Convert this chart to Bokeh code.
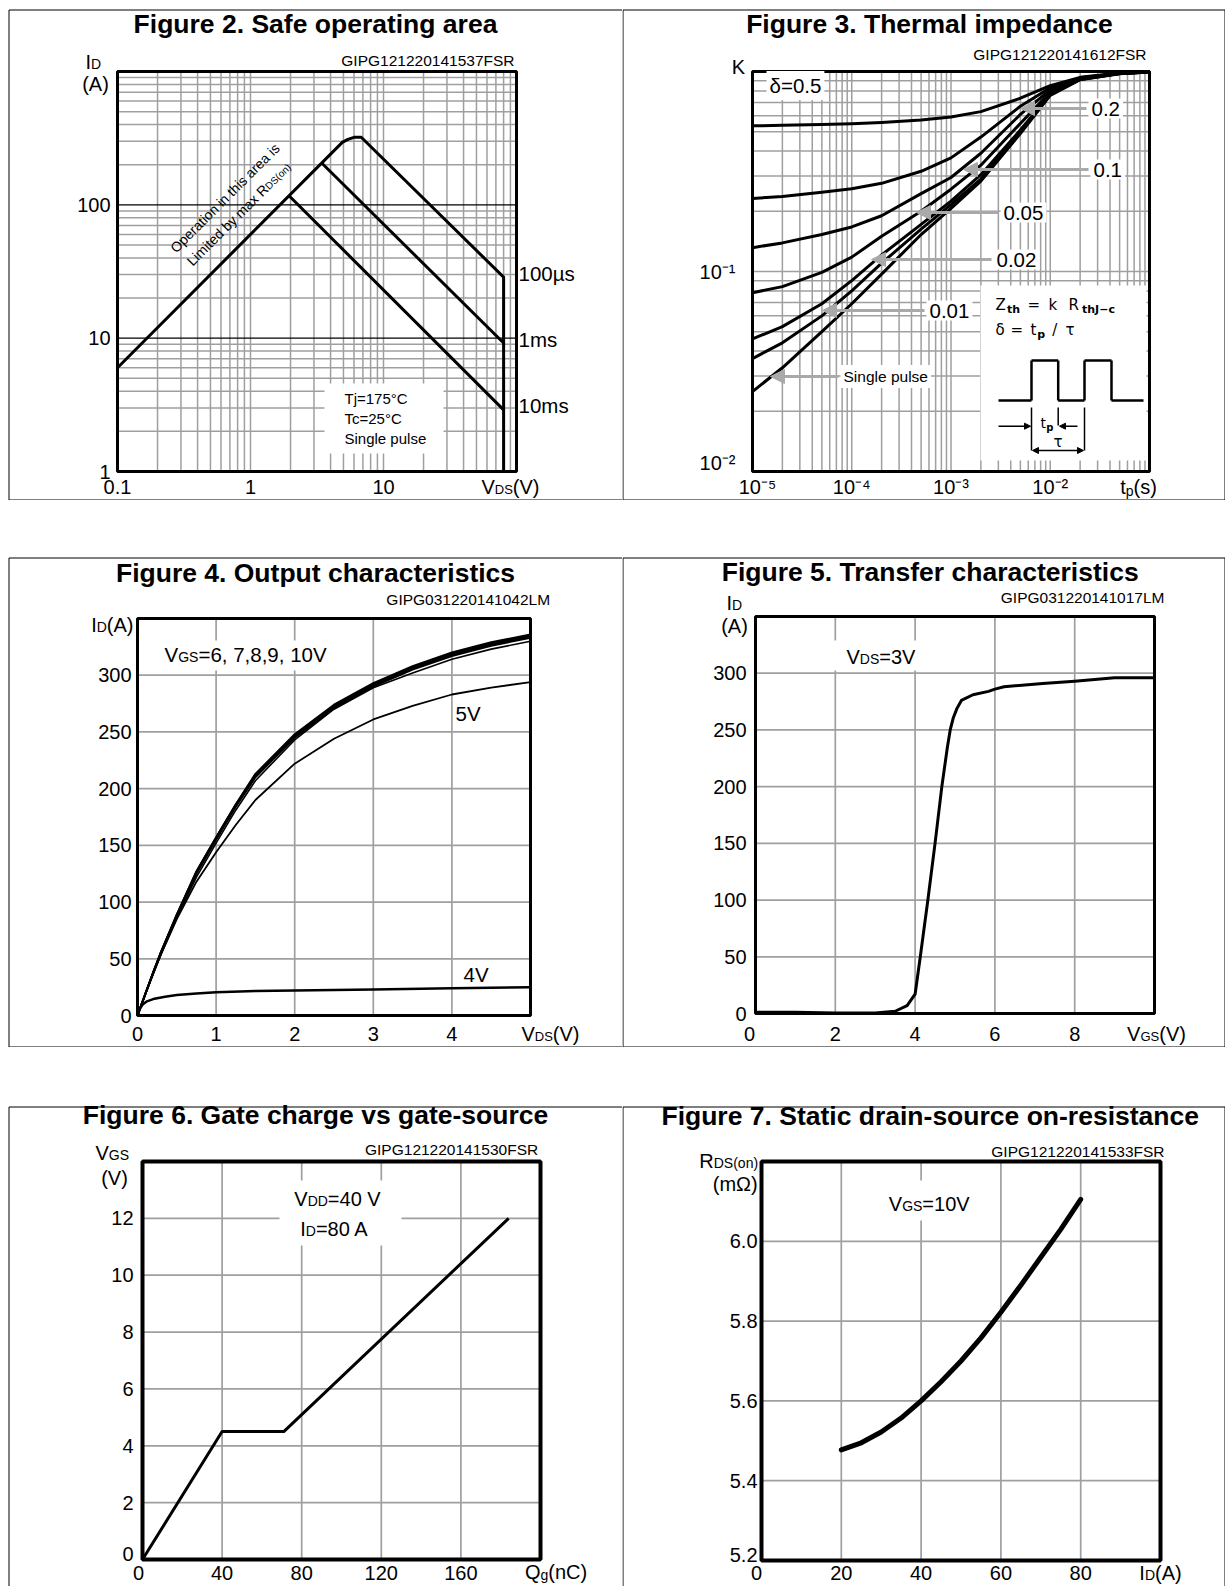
import math
from bokeh.plotting import figure
from bokeh.models import Range1d, Label, BoxAnnotation, Arrow, NormalHead
from bokeh.layouts import column, row
from bokeh.embed import file_html
from bokeh.resources import INLINE

# ======================= DATA =======================
# Figure 2 - safe operating area
soa_vds_100us = [0.1, 4.9, 5.4, 6.0, 6.8, 80, 80]
soa_id_100us = [6.0, 294, 310, 321, 321, 28.7, 1.0]
soa_vds_1ms = [3.43, 80]
soa_id_1ms = [206, 9.2]
soa_vds_10ms = [1.95, 80]
soa_id_10ms = [117, 2.9]
soa_x_ticks = [0.1, 1, 10]
soa_x_labels = ["0.1", "1", "10"]
soa_y_ticks = [1, 10, 100]
soa_y_labels = ["1", "10", "100"]
soa_curve_names = ["100µs", "1ms", "10ms"]
soa_conditions = ["Tj=175°C", "Tc=25°C", "Single pulse"]

# Figure 3 - thermal impedance
zth_tp = [1e-5, 2e-5, 5e-5, 1e-4, 2e-4, 5e-4, 1e-3, 2e-3, 5e-3, 1e-2, 2e-2, 5e-2, 1e-1]
zth_k_d050 = [0.535, 0.538, 0.543, 0.548, 0.556, 0.572, 0.592, 0.63, 0.735, 0.85, 0.935, 0.982, 0.997]
zth_k_d020 = [0.232, 0.237, 0.249, 0.259, 0.276, 0.317, 0.37, 0.47, 0.67, 0.83, 0.93, 0.98, 0.996]
zth_k_d010 = [0.1316, 0.139, 0.153, 0.167, 0.19, 0.245, 0.295, 0.39, 0.61, 0.81, 0.925, 0.98, 0.996]
zth_k_d005 = [0.0783, 0.084, 0.099, 0.118, 0.15, 0.2, 0.258, 0.34, 0.55, 0.79, 0.92, 0.978, 0.995]
zth_k_d002 = [0.046, 0.053, 0.069, 0.09, 0.121, 0.172, 0.225, 0.305, 0.51, 0.77, 0.915, 0.977, 0.995]
zth_k_d001 = [0.0367, 0.044, 0.06, 0.08, 0.11, 0.163, 0.216, 0.29, 0.5, 0.765, 0.912, 0.976, 0.995]
zth_k_single = [0.0251, 0.033, 0.05, 0.069, 0.097, 0.153, 0.207, 0.283, 0.49, 0.76, 0.91, 0.975, 0.995]
zth_x_ticks = [1e-5, 1e-4, 1e-3, 1e-2]
zth_x_labels = ["10\u207b\u2075", "10\u207b\u2074", "10\u207b\u00b3", "10\u207b\u00b2"]
zth_y_ticks = [0.01, 0.1]
zth_y_labels = ["10\u207b\u00b2", "10\u207b\u00b9"]
zth_duty_labels = ["\u03b4=0.5", "0.2", "0.1", "0.05", "0.02", "0.01", "Single pulse"]

# Figure 4 - output characteristics
out_vds = [0, 0.1, 0.2, 0.3, 0.5, 0.75, 1.0, 1.25, 1.5, 2.0, 2.5, 3.0, 3.5, 4.0, 4.5, 5.0]
out_id_10v = [0, 19, 38, 56, 89, 127, 157, 186, 213, 248, 274, 293, 308, 320, 329, 336]
out_id_9v = [0, 19, 38, 56, 89, 127, 157, 186, 212, 247, 273, 292, 307, 319, 328, 335]
out_id_8v = [0, 19, 38, 56, 88, 126, 156, 185, 211, 246, 272, 291, 306, 318, 327, 334]
out_id_7v = [0, 19, 37, 55, 88, 125, 155, 184, 210, 245, 271, 290, 305, 317, 326, 333]
out_id_6v = [0, 19, 37, 54, 86, 122, 152, 181, 207, 243, 270, 289, 302, 314, 323, 330]
out_id_5v = [0, 19, 37, 54, 85, 118, 144, 168, 190, 222, 244, 261, 273, 283, 289, 294]
out_vds_4v = [0, 0.03, 0.07, 0.12, 0.2, 0.35, 0.5, 0.75, 1.0, 1.5, 2.0, 3.0, 4.0, 5.0]
out_id_4v = [0, 6, 10, 12.5, 14.5, 16.5, 18, 19.5, 20.5, 21.5, 22, 23, 24, 25]
out_x_ticks = [0, 1, 2, 3, 4]
out_x_labels = ["0", "1", "2", "3", "4"]
out_y_ticks = [0, 50, 100, 150, 200, 250, 300]
out_y_labels = ["0", "50", "100", "150", "200", "250", "300"]

# Figure 5 - transfer characteristics
tr_vgs = [0, 1, 2, 3, 3.5, 3.8, 4.0, 4.13, 4.32, 4.5, 4.67, 4.81, 4.88, 4.96, 5.05, 5.16,
          5.45, 5.84, 6.0, 6.23, 7.2, 8.0, 9.0, 10.0]
tr_id = [1, 1, 0.5, 0.5, 2, 7, 17, 50, 100, 150, 200, 235, 250, 261, 269, 276,
         281, 284, 286, 288, 291, 293, 296, 296]
tr_x_ticks = [0, 2, 4, 6, 8]
tr_x_labels = ["0", "2", "4", "6", "8"]
tr_y_ticks = [0, 50, 100, 150, 200, 250, 300]
tr_y_labels = ["0", "50", "100", "150", "200", "250", "300"]

# Figure 6 - gate charge
gc_qg = [0, 40, 71, 184]
gc_vgs = [0, 4.5, 4.5, 12]
gc_x_ticks = [0, 40, 80, 120, 160]
gc_x_labels = ["0", "40", "80", "120", "160"]
gc_y_ticks = [0, 2, 4, 6, 8, 10, 12]
gc_y_labels = ["0", "2", "4", "6", "8", "10", "12"]

# Figure 7 - static drain-source on-resistance
rds_id = [20, 25, 30, 35, 40, 45, 50, 55, 60, 65, 70, 75, 80]
rds_mohm = [5.477, 5.495, 5.522, 5.557, 5.6, 5.648, 5.70, 5.758, 5.822, 5.89, 5.96, 6.03, 6.105]
rds_x_ticks = [0, 20, 40, 60, 80]
rds_x_labels = ["0", "20", "40", "60", "80"]
rds_y_ticks = [5.2, 5.4, 5.6, 5.8, 6.0]
rds_y_labels = ["5.2", "5.4", "5.6", "5.8", "6.0"]

# ======================= STYLE HELPERS =======================
FONT = "Liberation Sans"
DJ = "DejaVu Sans"
GRID = "#9f9f9f"
ARW = "#a9a9a9"

AW = {' ': .278, '!': .278, '(': .333, ')': .333, ',': .278, '-': .333, '.': .278, '/': .278,
      '=': .584, '°': .4, 'µ': .576, 'Ω': .768, 'δ': .556, 'τ': .45}
for c in "0123456789":
    AW[c] = .556
AW.update(dict(A=.667, B=.667, C=.722, D=.722, E=.667, F=.611, G=.778, H=.722, I=.278, J=.5,
               K=.667, L=.556, M=.833, N=.722, O=.778, P=.667, Q=.778, R=.722, S=.667, T=.611,
               U=.722, V=.667, W=.944, X=.667, Y=.667, Z=.611))
AW.update(dict(a=.556, b=.556, c=.5, d=.556, e=.556, f=.278, g=.556, h=.556, i=.222, j=.222,
               k=.5, l=.222, m=.833, n=.556, o=.556, p=.556, q=.556, r=.333, s=.5, t=.278,
               u=.556, v=.5, w=.722, x=.5, y=.5, z=.5))


def tw(s, size):
    return sum(AW.get(c, .556) for c in s) * size


def ext_range(a, b, p_lo, p_hi, c_lo, c_hi, log):
    """Range whose [a, b] part lands on pixels [p_lo, p_hi] of a frame spanning [c_lo, c_hi]."""
    if log:
        a, b = math.log10(a), math.log10(b)
    k = (b - a) / (p_hi - p_lo)
    lo = a - (p_lo - c_lo) * k
    hi = b + (c_hi - p_hi) * k
    if log:
        return Range1d(10 ** lo, 10 ** hi)
    return Range1d(lo, hi)


def log_minors(lo, hi):
    return [k * 10.0 ** e for e in range(lo, hi) for k in range(2, 10)]


class Panel:
    def __init__(self, x0, y0, w, h, inner, xr, yr, xlog=False, ylog=False, outline=3,
                 edges=(None, None, None, None)):
        self.x0, self.y0, self.w, self.h = x0, y0, w, h
        self.L, self.T, self.R, self.B = inner
        self.xr, self.yr, self.xlog, self.ylog = xr, yr, xlog, ylog
        p = figure(width=w, height=h,
                   x_range=ext_range(xr[0], xr[1], self.L, self.R, x0, x0 + w, xlog),
                   y_range=ext_range(yr[0], yr[1], -self.B, -self.T, -(y0 + h), -y0, ylog),
                   x_axis_type="log" if xlog else "linear",
                   y_axis_type="log" if ylog else "linear",
                   x_axis_location=None, y_axis_location=None, output_backend="svg",
                   toolbar_location=None, title=None, min_border=0)
        p.min_border_left = p.min_border_right = p.min_border_top = p.min_border_bottom = 0
        p.outline_line_color = None
        p.grid.visible = False
        p.background_fill_color = "white"
        p.border_fill_color = "white"
        self.p = p
        # plot-area frame
        p.add_layout(BoxAnnotation(left=xr[0], right=xr[1], bottom=yr[0], top=yr[1],
                                   fill_color=None, fill_alpha=0, line_color="black",
                                   line_alpha=1.0, line_width=outline))
        # thin cell border
        l, t, r, b = edges
        l = x0 - 6 if l is None else l
        r = x0 + w + 6 if r is None else r
        t = y0 - 6 if t is None else t
        b = y0 + h + 6 if b is None else b
        p.add_layout(BoxAnnotation(left=l - x0, right=r - x0, top=y0 + h - t, bottom=y0 + h - b,
                                   left_units="screen", right_units="screen",
                                   top_units="screen", bottom_units="screen",
                                   fill_color=None, fill_alpha=0, line_color="black",
                                   line_alpha=1.0, line_width=1, level="overlay"))

    # page pixel -> data
    def xd(self, px):
        a, b = self.xr
        f = (px - self.L) / (self.R - self.L)
        if self.xlog:
            return 10 ** (math.log10(a) + f * (math.log10(b) - math.log10(a)))
        return a + f * (b - a)

    def yd(self, py):
        a, b = self.yr
        f = (self.B - py) / (self.B - self.T)
        if self.ylog:
            return 10 ** (math.log10(a) + f * (math.log10(b) - math.log10(a)))
        return a + f * (b - a)

    def text(self, px, py, s, size, align="left", bold=False, angle=0.0,
             font=FONT, bg=None, color="black"):
        # py is the vertical centre of the text
        lab = Label(x=px - self.x0, y=self.y0 + self.h - py, x_units="screen", y_units="screen",
                    text=s, text_font=font, text_font_size=f"{size}px", text_align=align,
                    text_baseline="middle", text_font_style="bold" if bold else "normal",
                    text_color=color, angle=angle)
        if bg:
            lab.background_fill_color = bg
            lab.padding = 3
        self.p.add_layout(lab)

    def rich(self, px, cy, segs, align="left", font=FONT):
        # segs: (text, size, dy); cy = centre of the largest text; small text shares baseline
        big = max(sg[1] for sg in segs)
        widths = [tw(sg[0], sg[1]) for sg in segs]
        total = sum(widths)
        x = px - (total / 2 if align == "center" else total if align == "right" else 0)
        for sg, wdt in zip(segs, widths):
            t, s, dy = sg[0], sg[1], sg[2]
            self.text(x, cy + 0.36 * (big - s) + dy, t, s, font=font)
            x += wdt

    def xlabels(self, ticks, labels, cy, align="center", offsets=None, size=20):
        for i, (t, s) in enumerate(zip(ticks, labels)):
            self.p.add_layout(Label(x=t, y=self.y0 + self.h - cy, x_units="data", y_units="screen",
                                    text=s, x_offset=offsets[i] if offsets else 0,
                                    text_align=align, text_baseline="middle", text_font=FONT,
                                    text_font_size=f"{size}px", text_color="black"))

    def ylabels(self, ticks, labels, rx, size=20, scale=None, lift=None):
        # lift: optional upward pixel nudge per label (linear axes)
        per_px = (self.yr[1] - self.yr[0]) / (self.B - self.T)
        for i, (t, s) in enumerate(zip(ticks, labels)):
            yv = t * scale[i] if scale else t
            if lift:
                yv = yv + lift[i] * per_px
            self.p.add_layout(Label(x=rx - self.x0, y=yv, x_units="screen", y_units="data",
                                    text=s, text_align="right", text_baseline="middle",
                                    text_font=FONT, text_font_size=f"{size}px",
                                    text_color="black"))

    def vgrid(self, xs, color=GRID, width=1.7):
        n = len(xs)
        self.p.segment(x0=xs, x1=xs, y0=[self.yr[0]] * n, y1=[self.yr[1]] * n,
                       line_color=color, line_width=width)

    def hgrid(self, ys, color=GRID, width=1.7):
        n = len(ys)
        self.p.segment(x0=[self.xr[0]] * n, x1=[self.xr[1]] * n, y0=ys, y1=ys,
                       line_color=color, line_width=width)

    def box(self, x1, y1, x2, y2):
        self.p.quad(left=self.xd(x1), right=self.xd(x2), top=self.yd(y1), bottom=self.yd(y2),
                    fill_color="white", line_color=None)

    def seg(self, x1, y1, x2, y2, color="black", width=2.0, end=None, start=None):
        H = self.y0 + self.h
        self.p.add_layout(Arrow(x_start=x1 - self.x0, y_start=H - y1,
                                x_end=x2 - self.x0, y_end=H - y2,
                                start_units="screen", end_units="screen",
                                line_color=color, line_width=width, end=end, start=start))

    def title(self, cx, cy, s):
        self.text(cx, cy, s, 26.5, align="center", bold=True)

    def code(self, rx, cy, s):
        self.text(rx, cy, s, 15.5, align="right")


# ======================= FIGURE 2 =======================
f2 = Panel(0, 0, 622, 500, (117, 71, 516, 471), (0.1, 100), (1, 1000), xlog=True, ylog=True,
           edges=(8.5, 9.5, None, 499.5))
p = f2.p
f2.vgrid(log_minors(-1, 2) + [1, 10], width=1.5)
f2.hgrid(log_minors(0, 3), width=1.5)
f2.hgrid([10, 100], color="black", width=1.2)
f2.box(324, 383, 443, 453)
for xs, ys in ((soa_vds_100us, soa_id_100us), (soa_vds_1ms, soa_id_1ms), (soa_vds_10ms, soa_id_10ms)):
    p.line(xs, ys, line_color="black", line_width=3, line_join="round")
f2.xlabels(soa_x_ticks, soa_x_labels, 486)
f2.ylabels(soa_y_ticks, soa_y_labels, 110)
for name, ys in zip(soa_curve_names, (soa_id_100us[:-1], soa_id_1ms, soa_id_10ms)):
    p.add_layout(Label(x=100, y=ys[-1] * 1.07, x_units="data", y_units="data", text=name,
                       x_offset=2, text_font=FONT, text_font_size="20.5px", text_align="left",
                       text_baseline="middle", text_color="black"))
f2.title(315, 23, "Figure 2. Safe operating area")
f2.code(514, 60, "GIPG121220141537FSR")
f2.rich(85, 61, [("I", 20, 0), ("D", 14, 0)])
f2.rich(95, 83, [("(A)", 20, 0)], align="center")
f2.rich(510, 486, [("V", 20, 0), ("DS", 13, 0), ("(V)", 20, 0)], align="center")
for i, s in enumerate(soa_conditions):
    f2.text(344, 398 + 20 * i, s, 15)
ang = math.pi / 4
ux, uy = math.cos(ang), -math.sin(ang)
f2.text(224.4, 197.5, "Operation in this area is", 14, align="center", angle=ang)
segs = [("Limited by max R", 14, 0.0), ("DS(on)", 10, 1.5)]
ws = [tw(t, s) for t, s, o in segs]
sx = 238.2 - sum(ws) / 2 * ux
sy = 213.3 - sum(ws) / 2 * uy
for (t, s, o), wdt in zip(segs, ws):
    f2.text(sx + o * 0.707, sy + o * 0.707, t, s, align="left", angle=ang)
    sx += wdt * ux
    sy += wdt * uy

# ======================= FIGURE 3 =======================
f3 = Panel(622, 0, 603, 500, (752, 71, 1149, 471), (1e-5, 1e-1), (0.01, 1), xlog=True, ylog=True,
           edges=(622.5, 9.5, 1224.5, 499.5))
p = f3.p
f3.vgrid(log_minors(-5, -1) + [1e-4, 1e-3, 1e-2], width=1.5)
f3.hgrid(log_minors(-2, 0) + [0.1], width=1.5)
f3.box(980, 285, 1146, 460)
for ks in (zth_k_d050, zth_k_d020, zth_k_d010, zth_k_d005, zth_k_d002, zth_k_d001, zth_k_single):
    p.line(zth_tp, ks, line_color="black", line_width=3, line_join="round")
f3.xlabels(zth_x_ticks, zth_x_labels, 486, offsets=[5, 0, 0, 0])
f3.ylabels(zth_y_ticks, zth_y_labels, 735, scale=[1.1, 1.0])
f3.title(929, 23, "Figure 3. Thermal impedance")
f3.code(1146, 54, "GIPG121220141612FSR")
f3.text(738, 66, "K", 20, align="center")
f3.rich(1138, 486, [("t", 20, 0), ("p", 14, 2.5), ("(s)", 20, 0)], align="center")
duty_pos = [(766, 85), (1088, 108), (1090, 169), (1000, 212), (993, 259), (926, 310), (840, 376)]
arrow_tip = [None, 1020, 963, 916, 871, 822, 770]


def head():
    return NormalHead(size=14, fill_color=ARW, line_color=ARW, line_width=1)


for (lx, ly), tip in zip(duty_pos, arrow_tip):
    if tip is not None:
        f3.seg(lx - 2, ly, tip, ly, color=ARW, width=3, end=head())
for s, (lx, ly) in zip(zth_duty_labels, duty_pos):
    f3.text(lx, ly, s, 15.5 if s == "Single pulse" else 20.5, bg="white")
# inset: formula and pulse schematic
for t, x in (("Z", 995), ("=", 1027), ("k", 1048), ("R", 1068)):
    f3.text(x, 304, t, 15, font=DJ)
f3.text(1006.5, 309, "th", 11, bold=True, font=DJ)
f3.text(1081.5, 309, "thJ\u2212c", 11, bold=True, font=DJ)
for t, x in (("\u03b4", 995), ("=", 1010), ("t", 1030), ("/", 1051.7), ("\u03c4", 1065)):
    f3.text(x, 329, t, 15, font=DJ)
f3.text(1036.7, 334, "p", 11, bold=True, font=DJ)
wave = [(998, 400), (1031, 400), (1031, 360), (1057.7, 360), (1057.7, 400), (1084, 400),
        (1084, 360), (1111, 360), (1111, 400), (1143, 400)]
for (xa, ya), (xb, yb) in zip(wave[:-1], wave[1:]):
    f3.seg(xa, ya, xb, yb, width=2.5)
f3.seg(1031, 407, 1031, 450, width=1.5)
f3.seg(1084, 407, 1084, 450, width=1.5)
f3.seg(1057.7, 407, 1057.7, 425, width=1.5)


def small():
    return NormalHead(size=6, fill_color="black", line_color="black", line_width=1)


f3.seg(998, 425.7, 1030, 425.7, width=1.5, end=small())
f3.seg(1077, 425.7, 1059, 425.7, width=1.5, end=small())
f3.seg(1032, 450, 1083, 450, width=1.5, end=small(), start=small())
f3.text(1040, 422, "t", 14, font=DJ)
f3.text(1045.7, 427, "p", 10, bold=True, font=DJ)
f3.text(1053, 441, "\u03c4", 15, font=DJ)

# ======================= FIGURE 4 =======================
f4 = Panel(0, 500, 622, 547, (137, 618, 530, 1015), (0, 5), (0, 350),
           edges=(8.5, 557.5, None, 1046.5))
p = f4.p
f4.vgrid(out_x_ticks[1:])
f4.hgrid(out_y_ticks[1:])
f4.box(158, 640, 338, 670)
for ys, lw in ((out_id_10v, 2), (out_id_9v, 2), (out_id_8v, 2), (out_id_7v, 2),
               (out_id_6v, 1.6), (out_id_5v, 1.8)):
    p.line(out_vds, ys, line_color="black", line_width=lw, line_join="round")
p.line(out_vds_4v, out_id_4v, line_color="black", line_width=2.5, line_join="round")
f4.xlabels(out_x_ticks, out_x_labels, 1033)
f4.ylabels(out_y_ticks, out_y_labels, 131)
f4.title(315, 572, "Figure 4. Output characteristics")
f4.code(549.6, 599, "GIPG031220141042LM")
f4.rich(133, 624, [("I", 20, 0), ("D", 14, 0), ("(A)", 20, 0)], align="right")
f4.rich(550, 1033, [("V", 20, 0), ("DS", 13, 0), ("(V)", 20, 0)], align="center")
f4.rich(164, 654, [("V", 20.5, 0), ("GS", 14, 0), ("=6, 7,8,9, 10V", 20.5, 0)])
f4.rich(455, 713, [("5V", 20.5, 0)])
f4.rich(463, 974, [("4V", 20.5, 0)])

# ======================= FIGURE 5 =======================
f5 = Panel(622, 500, 603, 547, (755, 616, 1154, 1013), (0, 10), (0, 350),
           edges=(622.5, 557.5, 1224.5, 1046.5))
p = f5.p
f5.vgrid(tr_x_ticks[1:])
f5.hgrid(tr_y_ticks[1:])
f5.box(826, 640, 930, 670)
p.line(tr_vgs, tr_id, line_color="black", line_width=3, line_join="round")
f5.xlabels(tr_x_ticks, tr_x_labels, 1033, offsets=[-6, 0, 0, 0, 0])
f5.ylabels(tr_y_ticks, tr_y_labels, 746)
f5.title(929.7, 571, "Figure 5. Transfer characteristics")
f5.code(1164, 597, "GIPG031220141017LM")
f5.rich(726, 602, [("I", 20, 0), ("D", 14, 0)])
f5.rich(734, 625, [("(A)", 20, 0)], align="center")
f5.rich(1156, 1033, [("V", 20, 0), ("GS", 13, 0), ("(V)", 20, 0)], align="center")
f5.rich(846, 656, [("V", 20, 0), ("DS", 14, 0), ("=3V", 20, 0)])

# ======================= FIGURE 6 =======================
f6 = Panel(0, 1047, 622, 539, (142, 1161, 540, 1559), (0, 200), (0, 14), outline=4,
           edges=(8.5, 1106.5, None, None))
p = f6.p
f6.vgrid(gc_x_ticks[1:])
f6.hgrid(gc_y_ticks[1:])
f6.box(279, 1180, 401, 1245)
p.line(gc_qg, gc_vgs, line_color="black", line_width=3, line_join="round")
f6.xlabels(gc_x_ticks, gc_x_labels, 1572, offsets=[-4, 0, 0, 0, 0])
f6.ylabels(gc_y_ticks, gc_y_labels, 133, lift=[6, 0, 0, 0, 0, 0, 0])
f6.title(315, 1114, "Figure 6. Gate charge vs gate-source")
f6.code(537.7, 1149, "GIPG121220141530FSR")
f6.rich(95, 1152, [("V", 20, 0), ("GS", 14, 0)])
f6.rich(114, 1177, [("(V)", 20, 0)], align="center")
f6.rich(555.5, 1571, [("Q", 20, 0), ("g", 14, 1.5), ("(nC)", 20, 0)], align="center")
f6.rich(337, 1198, [("V", 20, 0), ("DD", 14, 0), ("=40 V", 20, 0)], align="center")
f6.rich(334, 1228, [("I", 20, 0), ("D", 14, 0), ("=80 A", 20, 0)], align="center")

# ======================= FIGURE 7 =======================
f7 = Panel(622, 1047, 603, 539, (761, 1161, 1160, 1560), (0, 100), (5.2, 6.2), outline=4,
           edges=(622.5, 1106.5, 1224.5, None))
p = f7.p
f7.vgrid(rds_x_ticks[1:])
f7.hgrid(rds_y_ticks[1:])
f7.box(882, 1180, 975, 1220)
p.line(rds_id, rds_mohm, line_color="black", line_width=5, line_join="round", line_cap="round")
f7.xlabels(rds_x_ticks, rds_x_labels, 1572, offsets=[-5, 0, 0, 0, 0])
f7.ylabels(rds_y_ticks, rds_y_labels, 757, lift=[6, 0, 0, 0, 0])
f7.title(929.7, 1115, "Figure 7. Static drain-source on-resistance")
f7.code(1164, 1151, "GIPG121220141533FSR")
f7.rich(757.6, 1160, [("R", 20, 0), ("DS(on)", 14, 0)], align="right")
f7.rich(757.6, 1183, [("(m\u03a9)", 20, 0)], align="right")
f7.rich(1160, 1572, [("I", 20, 0), ("D", 14, 0), ("(A)", 20, 0)], align="center")
f7.rich(928.7, 1203, [("V", 20, 0), ("GS", 14, 0), ("=10V", 20, 0)], align="center")

layout = column(row(f2.p, f3.p), row(f4.p, f5.p), row(f6.p, f7.p))

with open("out.html", "w", encoding="utf-8") as fh:
    fh.write(file_html(layout, INLINE, title="Datasheet figures"))
